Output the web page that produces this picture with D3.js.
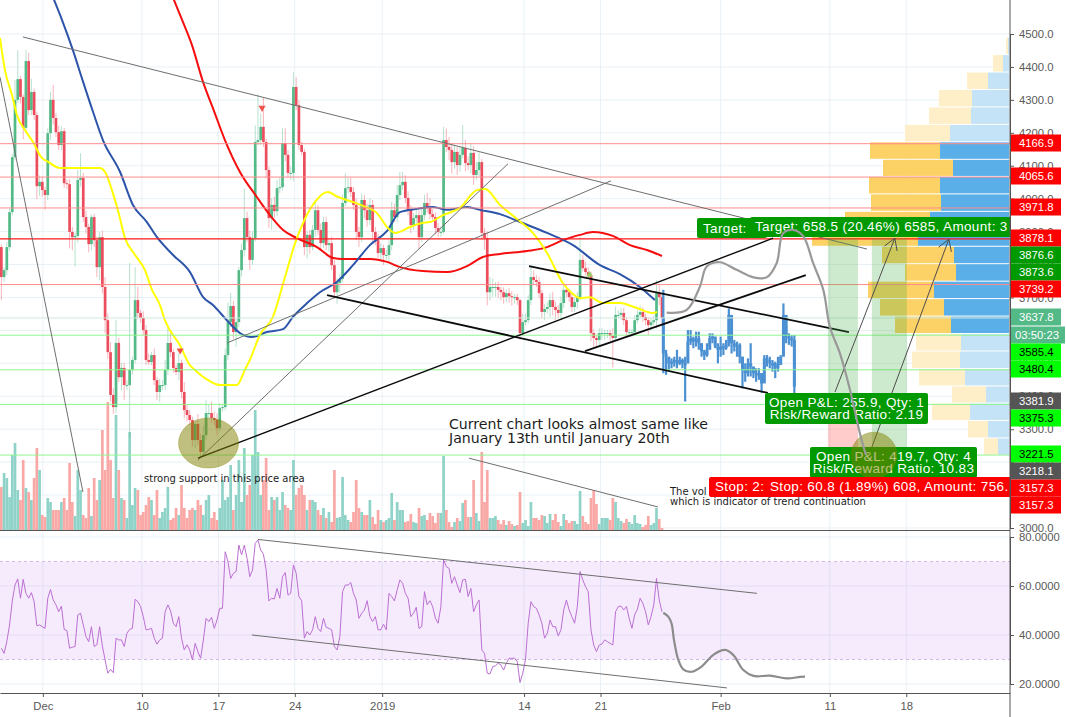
<!DOCTYPE html>
<html>
<head>
<meta charset="utf-8">
<title>BTC chart</title>
<script src="https://cdn.jsdelivr.net/npm/d3@7"></script>
<style>
	html, body { margin: 0; padding: 0; background: #fff; }
	svg { display: block; }
	.axis text { font-family: "Liberation Sans", Arial, sans-serif; font-size: 11.3px; fill: #5a5a5a; }
	.note { font-family: "DejaVu Sans", sans-serif; fill: #1c1c1c; }
	.box-text { font-family: "Liberation Sans", Arial, sans-serif; font-size: 13.5px; fill: #fff; letter-spacing: 0.35px; }
	.tag-text { font-family: "Liberation Sans", Arial, sans-serif; font-size: 11.3px; }
</style>
</head>
<body>
<div id="chart-area"></div>
<script>
//**************** Data *****************//

// close of every bar, 4 bars a day
const closes = [
	3762,3783,3853,3959,4126,4300,4363,4309,4215,4418,
	4269,4324,4254,4038,4051,4026,4011,4199,4300,4245,
	4202,4163,4205,4047,4044,3899,3883,3887,4057,4063,
	3944,3914,3862,3944,3874,3792,3883,3732,3631,3534,
	3404,3367,3562,3458,3486,3434,3434,3480,3510,3692,
	3653,3638,3601,3510,3504,3525,3449,3413,3434,3434,
	3480,3562,3534,3486,3474,3501,3413,3358,3343,3328,
	3267,3316,3267,3231,3282,3349,3349,3334,3328,3303,
	3364,3367,3525,3625,3674,3595,3625,3783,3844,3941,
	3883,3814,3880,4172,4178,4218,4172,4087,3941,3981,
	3962,4032,4035,4169,4133,4078,4078,4339,4284,4163,
	4142,3853,3890,3853,3905,3965,3905,3865,3929,3859,
	3865,3798,3716,3744,3756,3987,4032,4035,4020,3981,
	3899,3883,3996,3965,3935,3981,3899,3874,3835,3850,
	3829,3829,3859,3965,3944,4011,4041,4051,4002,3965,
	3920,3941,3950,3883,3950,3987,3972,3953,3944,3911,
	3899,3899,4178,4157,4148,4111,4142,4102,4133,4154,
	4108,4102,4139,4072,4087,4111,3896,3880,3716,3732,
	3732,3732,3723,3716,3701,3713,3704,3701,3701,3692,
	3592,3625,3631,3692,3762,3753,3747,3713,3656,3665,
	3671,3692,3671,3662,3653,3683,3723,3716,3701,3671,
	3686,3701,3814,3789,3777,3768,3592,3577,3571,3592,
	3592,3592,3592,3583,3577,3647,3647,3653,3631,3595,
	3595,3595,3631,3647,3656,3641,3631,3616,3625,3631,
	3713,3701,3638
];
const firstOpen = 3853;

// wick lengths above / below the body
const wickUp = [
	8,8,15,10,10,60,88,10,8,33,
	25,40,10,10,20,15,10,15,25,45,
	15,20,15,10,10,15,15,10,30,75,
	15,20,10,8,10,10,15,20,30,20,
	30,20,70,15,15,15,15,325,10,100,
	40,10,20,15,20,10,20,10,20,15,
	30,45,30,10,10,30,10,30,15,15,
	10,10,30,20,30,40,25,35,20,20,
	15,10,20,60,40,15,10,10,20,90,
	20,20,20,50,140,40,90,10,10,20,
	25,25,30,45,45,15,20,45,30,15,
	10,10,10,15,15,25,15,20,15,15,
	15,20,15,15,15,25,45,30,30,15,
	20,15,20,15,20,20,15,15,20,15,
	10,15,15,25,20,30,40,30,20,20,
	15,15,20,15,20,25,30,30,15,15,
	15,15,40,35,30,20,20,15,25,70,
	25,20,30,20,25,30,10,15,20,30,
	25,15,15,10,15,10,15,15,10,10,
	5,25,20,15,35,20,15,15,10,15,
	15,20,25,15,15,20,20,15,10,15,
	15,15,70,15,20,15,10,10,10,15,
	15,10,10,10,25,25,15,15,15,10,
	10,10,15,15,20,15,10,10,15,15,
	40,25,10
];
const wickDown = [
	70,15,15,10,10,10,10,20,35,15,
	15,15,15,40,30,20,45,15,20,20,
	15,15,15,15,15,50,40,90,20,20,
	15,20,25,20,20,30,40,20,40,20,
	20,20,18,15,40,45,15,160,15,10,
	15,15,15,15,10,10,15,25,30,15,
	15,15,15,15,10,25,20,25,20,15,
	20,25,15,15,15,15,15,15,15,20,
	10,10,10,15,15,20,45,15,20,20,
	15,30,15,10,10,15,15,25,30,35,
	20,15,15,10,20,15,20,25,15,15,
	10,25,35,20,10,20,15,20,15,15,
	20,15,20,35,30,10,10,15,15,15,
	25,30,15,25,20,15,30,15,15,25,
	30,15,25,15,15,15,15,15,15,15,
	25,15,15,35,15,15,15,15,15,20,
	15,15,5,15,30,35,20,30,20,10,
	25,15,25,30,15,20,20,35,40,25,
	30,30,25,25,20,15,20,25,20,15,
	20,10,10,10,15,15,15,15,20,25,
	15,30,25,30,15,20,15,15,15,15,
	15,20,10,10,10,10,25,30,25,20,
	20,20,15,15,90,10,10,15,15,15,
	15,15,10,10,10,15,15,30,15,10,
	25,25,20
];

const volumes = [
	43,57,52,33,75,87,40,30,70,42,
	38,30,52,82,60,15,13,32,28,20,
	20,20,28,32,20,67,28,14,60,40,
	15,12,42,14,52,30,50,100,60,128,
	70,32,115,60,32,30,12,98,25,42,
	40,15,18,25,33,30,15,40,12,18,
	22,43,10,12,22,15,45,22,12,20,
	22,20,30,25,15,30,35,12,18,10,
	22,50,30,33,65,20,35,70,28,82,
	35,45,75,120,78,35,50,72,20,33,
	30,33,20,38,25,22,20,70,35,42,
	45,35,20,30,30,28,20,15,22,12,
	18,8,60,12,13,53,15,10,8,18,
	50,22,18,15,15,30,13,6,20,10,
	8,10,12,37,10,28,20,20,8,9,
	16,8,7,22,14,15,10,17,14,7,
	17,17,74,20,8,3,8,12,9,27,
	30,13,13,50,17,9,78,28,60,12,
	12,14,10,6,10,5,9,6,4,5,
	38,7,10,4,28,12,12,10,15,14,
	7,16,10,16,8,4,16,10,7,9,
	9,6,39,14,8,6,32,40,26,6,
	12,12,12,10,32,28,12,9,7,11,
	8,6,15,7,6,3,5,14,5,7,
	22,11,2
];

const rsiValues = [
	34.6,32.5,37.3,44.1,53.9,60.4,62.9,55,62.7,57,
	55,57.3,53.6,43.8,44.1,43.4,42.7,55,58.6,54.3,
	52.3,49.5,51.8,42.3,41.8,34.6,35,35.3,48.2,48.9,
	44.1,39.3,37.3,43.4,35.3,36,43.4,35.5,29.8,24.4,
	26,24.6,38.7,38,38,35.3,40.7,42.3,42.7,54.6,
	53.6,51.6,47.5,42.1,42.3,42.7,38.7,36.3,38,38.7,
	49.5,52.3,49.8,44.8,43.4,47.5,38.7,33.9,36,33.9,
	29.8,36.6,33.2,30.5,38,46.8,45.5,47.2,42.7,46.1,
	50.9,50.9,74,70,63.1,65.2,65.9,76.7,72.7,76.7,
	71.3,63.8,66.5,77.4,78.8,74.7,73,66.5,53.9,55,
	54.7,59,55,63.8,65.5,56.3,57,68.6,65.2,55.7,
	54,38.7,41.4,40,42.1,47.5,42.7,41.4,46.8,43.1,
	42.7,42.1,35.3,33.9,39.3,57.7,60.4,60.4,61.4,57,
	54.3,46.8,48.9,50.2,54,47.5,45.5,47.5,42.1,42.1,
	44.4,42.1,57,55.7,53.9,58.4,62.5,61.1,57,55,
	47.5,48.9,51.3,42.7,43.4,57.7,52.3,54,51.6,46.8,
	44.8,51.6,70.6,67.9,67.2,61.1,63.8,60.4,57.3,62.5,
	62.7,55.7,59,49.5,52.3,54.3,33.9,32.5,24.4,24.1,
	27.1,27.4,28.5,27.8,25.7,28.5,30.5,30.5,30.5,29.1,
	20.6,24.4,29.8,44.8,53.6,51.6,50.9,48.2,44.8,38.7,
	40.7,46.1,43.4,43.4,39.6,42.1,50.2,54.3,50.2,47.5,
	44.8,51.6,65.9,62.5,59.7,57.7,42.1,35.9,33.2,35.9,
	36.3,38,37.3,36.6,35.9,49.5,51.6,51.8,50.2,51.6,
	46.8,42.7,48.2,50.5,55,52.9,49.5,44.1,47.5,52.3,
	63.1,54.3,49.5
];

// repeated price pattern drawn in blue after the last real bar
const patternClose = [3530,3520,3500,3505,3510,3500,3510,3500,3500,3566,3576,3566,3576,3561,3536,3525,3541,3576,3581,3551,3541,3551,3546,3561,3647,3561,3551,3556,3520,3480,3470,3500,3490,3470,3465,3470,3439,3515,3510,3500,3500,3485,3495,3520,3647,3581,3576,3571,3429];
const patternHigh = [3723,3541,3520,3515,3520,3541,3520,3515,3520,3601,3601,3581,3596,3596,3561,3541,3561,3591,3591,3581,3561,3581,3561,3571,3667,3586,3571,3566,3561,3520,3500,3515,3561,3490,3485,3485,3470,3525,3525,3520,3510,3505,3520,3525,3682,3616,3591,3586,3586];
const patternLow = [3470,3465,3480,3485,3490,3485,3495,3485,3384,3500,3556,3546,3551,3541,3520,3510,3520,3551,3561,3546,3500,3520,3525,3541,3551,3530,3536,3520,3500,3424,3444,3460,3460,3455,3444,3450,3411,3480,3490,3485,3475,3455,3475,3500,3561,3561,3556,3551,3409];

// moving averages: [bar, price]
const maYellow = [[-0.5,4488],[1.3,4391],[3.9,4315],[5.7,4254],[8.7,4208],[11.6,4172],[14.9,4123],[16.7,4114],[21.5,4093],[27,4093],[36.1,4093],[38,4081],[40.5,4026],[42.7,3965],[45.3,3880],[49,3829],[52.6,3783],[55.2,3723],[58.1,3677],[59.9,3631],[65.4,3555],[69.1,3494],[70.9,3480],[74.6,3455],[80.1,3434],[86.3,3434],[89.2,3480],[91,3510],[94.7,3586],[99.5,3641],[103.9,3762],[107.6,3865],[110.5,3926],[114.9,3990],[119.6,4020],[123.3,4005],[128.8,3990],[132.5,3978],[137.6,3956],[141.6,3911],[144.2,3896],[149.7,3914],[154.1,3926],[157,3929],[161.8,3950],[168,3972],[174.2,4026],[177.2,4029],[182.7,3981],[188.9,3938],[194.7,3896],[199.9,3835],[205.7,3744],[209,3713],[212,3698],[215.6,3701],[220.4,3683],[226.6,3683],[232.8,3668],[238.7,3653],[240.2,3656]];
const maBlue = [[18.5,4620],[22.2,4543],[26.2,4451],[29.5,4366],[33.6,4263],[37.2,4178],[43.5,4081],[48.2,3981],[53.3,3929],[57,3883],[62.9,3829],[69.1,3777],[73.9,3701],[77.5,3677],[82.6,3631],[87.4,3592],[91.8,3580],[97.3,3595],[103.2,3604],[106.8,3641],[112,3683],[116.7,3716],[122.9,3747],[128.8,3798],[135,3859],[141.3,3902],[146,3959],[152.3,3969],[158.1,3975],[163.2,3966],[170.6,3975],[175.3,3966],[182.7,3953],[190,3929],[199.9,3896],[209.4,3859],[219.3,3798],[226.6,3771],[233.9,3732],[239.4,3692]];
const maRed = [[62.5,4618],[66.2,4543],[69.8,4467],[73.9,4354],[77.5,4275],[81.9,4178],[87.4,4081],[93.6,4005],[98.4,3950],[103.2,3905],[108.3,3880],[115.6,3853],[121.5,3820],[125.1,3817],[135,3817],[141.3,3808],[146,3792],[154.4,3780],[163.2,3777],[170.6,3795],[176.4,3823],[182.7,3832],[192.5,3841],[199.9,3853],[205.7,3874],[212,3890],[216.7,3899],[224,3887],[230.3,3859],[236.5,3844],[242,3826]];

// hand drawn forecast curves: [bar, value]
const forecastPrice = [[243.7,3654],[251,3662],[255.9,3733],[258.4,3794],[263.2,3807],[269.3,3784],[275.5,3761],[280.3,3761],[284,3804],[286.4,3895],[290.1,3905],[293.8,3885],[297.4,3804],[301.1,3723],[303.5,3611],[307.2,3530],[310.9,3419],[314.5,3288],[316.7,3222]];
const forecastRsi = [[242.5,49.1],[244.3,47.5],[245.5,44.8],[246.4,38],[248,29.8],[249.8,26],[252.9,25],[256.5,27.1],[260.8,31.9],[265.1,33.9],[268.1,31.9],[271.8,25.7],[275.5,23.3],[281.6,23.4],[287.7,22.3],[292.6,22.9],[294.4,23]];

// trend lines: [bar1, price1, bar2, price2]
const thinLines = [[7.9,4491,317.1,3847],[-0.5,4369,29.9,3109],[72,3206,185.6,4106],[82.7,3562,223.3,4054],[171.3,3212,240.5,3064]];
const blackLines = [[119.3,3707,280.8,3410],[193.3,3795,310.5,3595],[213.8,3537,294.7,3768]];
const supportLine = [72,3212,282.7,3880];
const arrowLines = [[305.4,3413,327.3,3880],[318.9,3246,347.1,3877]];
const rsiLines = [[94,79,276.8,57],[91.8,40,265.8,18.4]];

// horizontal levels
const redLevels = [4166.9,4065.6,3971.8,3739.2];
const mainLevel = 3878.1;
const greenLevels = [3585.4,3480.4,3375.3,3221.5];
const paleLevel = 3637.8;

// volume profile: [top price, sell, buy]
const profileTop = [4489,4436,4383,4330,4277,4224,4171,4118,4066,4013,3960,3907,3854,3801,3748,3695,3642,3589,3536,3483,3430,3378,3325,3272];
const profileSell = [2,10,21,33,42,45,70,70,71,70,85,106,72,51,66,64,56,45,48,46,34,38,20,14];
const profileBuy = [1,6,21,37,38,59,69,56,69,68,79,91,55,53,75,65,58,48,49,44,23,39,21,11];
const profileStrong = [6,16]; // first and last row of the value area

// axis ticks
const priceTicks = [4500,4400,4300,4200,4100,4000,3900,3800,3700,3600,3500,3400,3300,3200,3100,3000];
const rsiTicks = [80,60,40,20];
const timeTickBars = [15.2,51.5,79.5,107.5,139.5,191.5,219.5,263.5,303.5,331.5];
const timeTickLabels = ['Dec','10','17','24','2019','14','21','Feb','11','18'];

// price tags on the right axis
const tagTexts = ['4166.9','4065.6','3971.8','3878.1','3876.6','3873.6','3739.2','3637.8','03:50:23','3585.4','3480.4','3381.9','3375.3','3221.5','3218.1','3157.3','3157.3'];
const tagKinds = ['red','red','red','red','dark','dark','red','teal','teal','lime','lime','grey','lime','lime','grey','red','red'];
const tagCentres = [143,176,207,238,255,272,289,317,335,352,369,401,418,454,471,488,505];


//**************** Canvas *****************//

const W = 1066, H = 717;
const plotRight = 1010, mainBottom = 530, rsiBottom = 693;

const svg = d3.select('#chart-area').append('svg')
	.attr('width', W)
	.attr('height', H)
	.attr('viewBox', '0 0 ' + W + ' ' + H);

const defs = svg.append('defs');
defs.append('clipPath').attr('id', 'clip-main')
	.append('rect').attr('x', 0).attr('y', 0).attr('width', plotRight).attr('height', mainBottom);
defs.append('clipPath').attr('id', 'clip-rsi')
	.append('rect').attr('x', 0).attr('y', mainBottom).attr('width', plotRight).attr('height', rsiBottom - mainBottom);
defs.append('clipPath').attr('id', 'clip-stop')
	.append('rect').attr('x', 709).attr('y', 470).attr('width', 60).attr('height', 40);


//**************** Scales & Axes *****************//

const x = d3.scaleLinear().domain([-0.5, 369.5]).range([0, plotRight]);
const y = d3.scaleLinear().domain([3000, 4500]).range([528, 34]);
const yVol = d3.scaleLinear().domain([0, 100]).range([mainBottom, mainBottom - 100]);
const yRsi = d3.scaleLinear().domain([20, 80]).range([684, 537]);

const gridColor = '#e9f1f6';

// grid
const grid = svg.append('g');
grid.selectAll('.gv').data(timeTickBars).enter().append('line')
	.attr('x1', d => x(d)).attr('x2', d => x(d))
	.attr('y1', 0).attr('y2', rsiBottom)
	.attr('stroke', gridColor);
grid.selectAll('.gh').data(priceTicks).enter().append('line')
	.attr('x1', 0).attr('x2', plotRight)
	.attr('y1', d => y(d)).attr('y2', d => y(d))
	.attr('stroke', gridColor);
grid.selectAll('.gr').data(rsiTicks).enter().append('line')
	.attr('x1', 0).attr('x2', plotRight)
	.attr('y1', d => yRsi(d)).attr('y2', d => yRsi(d))
	.attr('stroke', gridColor);

const main = svg.append('g').attr('clip-path', 'url(#clip-main)');
const lower = svg.append('g').attr('clip-path', 'url(#clip-rsi)');


//**************** Volume *****************//

const opens = closes.map((c, i) => i === 0 ? firstOpen : closes[i - 1]);

main.selectAll('.vol').data(volumes).enter().append('rect')
	.attr('x', (d, i) => x(i) - 1.35)
	.attr('width', 2.7)
	.attr('y', d => yVol(d))
	.attr('height', d => mainBottom - yVol(d))
	.attr('fill', (d, i) => closes[i] >= opens[i] ? '#8fd3c8' : '#f9a8a5');


//**************** Volume profile *****************//

const rowBottom = (d, i) => i < profileTop.length - 1 ? y(profileTop[i + 1]) : y(d) + 17.4;
const profile = main.append('g');
const pxPerUnit = 1;
const isStrong = i => i >= profileStrong[0] && i <= profileStrong[1];

profile.selectAll('.sell').data(profileTop).enter().append('rect')
	.attr('x', (d, i) => plotRight - 1 - (profileBuy[i] + profileSell[i]) * pxPerUnit)
	.attr('width', (d, i) => profileSell[i] * pxPerUnit)
	.attr('y', d => y(d))
	.attr('height', (d, i) => rowBottom(d, i) - y(d) - 1)
	.attr('fill', (d, i) => isStrong(i) ? '#fcd166' : '#feefc9');
profile.selectAll('.buy').data(profileTop).enter().append('rect')
	.attr('x', (d, i) => plotRight - 1 - profileBuy[i] * pxPerUnit)
	.attr('width', (d, i) => profileBuy[i] * pxPerUnit)
	.attr('y', d => y(d))
	.attr('height', (d, i) => rowBottom(d, i) - y(d) - 1)
	.attr('fill', (d, i) => isStrong(i) ? '#5aafe9' : '#c5e3f7');


//**************** Candles *****************//

const upColor = '#53b987', downColor = '#eb4d5c';
const candleColor = i => closes[i] >= opens[i] ? upColor : downColor;

main.selectAll('.wick').data(closes).enter().append('line')
	.attr('x1', (d, i) => x(i)).attr('x2', (d, i) => x(i))
	.attr('y1', (d, i) => y(Math.max(d, opens[i]) + wickUp[i]))
	.attr('y2', (d, i) => y(Math.min(d, opens[i]) - wickDown[i]))
	.attr('stroke', (d, i) => candleColor(i))
	.attr('stroke-opacity', 0.42);
main.selectAll('.body').data(closes).enter().append('rect')
	.attr('x', (d, i) => x(i) - 1.35)
	.attr('width', 2.7)
	.attr('y', (d, i) => y(Math.max(d, opens[i])))
	.attr('height', (d, i) => Math.max(1, Math.abs(y(d) - y(opens[i]))))
	.attr('fill', (d, i) => candleColor(i));

// repeated pattern
const patternColor = '#4a90d2';
const patternStart = 242.5;
const patternOpen = patternClose.map((c, i) => i === 0 ? closes[closes.length - 1] : patternClose[i - 1]);
main.selectAll('.pw').data(patternClose).enter().append('line')
	.attr('x1', (d, i) => x(patternStart + i)).attr('x2', (d, i) => x(patternStart + i))
	.attr('y1', (d, i) => y(patternHigh[i]))
	.attr('y2', (d, i) => y(patternLow[i]))
	.attr('stroke', patternColor)
	.attr('stroke-width', 2.2);
main.selectAll('.pb').data(patternClose).enter().append('rect')
	.attr('x', (d, i) => x(patternStart + i) - 1.5)
	.attr('width', 3)
	.attr('y', (d, i) => y(Math.max(d, patternOpen[i])))
	.attr('height', (d, i) => Math.max(2, Math.abs(y(d) - y(patternOpen[i]))))
	.attr('fill', patternColor);


//**************** Moving averages *****************//

const maLine = d3.line().x(d => x(d[0])).y(d => y(d[1])).curve(d3.curveMonotoneX);
const freeLine = d3.line().x(d => x(d[0])).y(d => y(d[1])).curve(d3.curveCatmullRom);

main.append('path').datum(maRed).attr('d', maLine).attr('fill', 'none').attr('stroke', '#f60d0d').attr('stroke-width', 2);
main.append('path').datum(maBlue).attr('d', maLine).attr('fill', 'none').attr('stroke', '#2c54a8').attr('stroke-width', 2);
main.append('path').datum(maYellow).attr('d', maLine).attr('fill', 'none').attr('stroke', '#ffff00').attr('stroke-width', 2);


//**************** Horizontal levels *****************//

function hline(price, color, width) {
	main.append('line')
		.attr('x1', 0).attr('x2', plotRight)
		.attr('y1', y(price)).attr('y2', y(price))
		.attr('stroke', color)
		.attr('stroke-width', width);
}
redLevels.forEach(p => hline(p, '#ff8c8c', 1));
greenLevels.forEach(p => hline(p, '#8ff58f', 1));
hline(paleLevel, '#cfe9dd', 1);
hline(mainLevel, '#ff1a1a', 1.3);


//**************** Trend lines *****************//

function segment(parent, d, yScale, color, width) {
	return parent.append('line')
		.attr('x1', x(d[0])).attr('y1', yScale(d[1]))
		.attr('x2', x(d[2])).attr('y2', yScale(d[3]))
		.attr('stroke', color)
		.attr('stroke-width', width);
}
thinLines.forEach(d => segment(main, d, y, '#6e6e6e', 1));
blackLines.forEach(d => segment(main, d, y, '#0c0c0c', 1.8));
segment(main, supportLine, y, '#0c0c0c', 1.4);


//**************** Position tools *****************//

function band(b0, b1, p0, p1, color) {
	main.append('rect')
		.attr('x', x(b0)).attr('width', x(b1) - x(b0))
		.attr('y', y(p0)).attr('height', y(p1) - y(p0))
		.attr('fill', color);
}
band(302.8, 313.8, 3880, 3316, 'rgba(60,170,60,0.25)');
band(302.8, 313.8, 3316, 3176, 'rgba(255,70,70,0.28)');
band(318.9, 331.7, 3880, 3246, 'rgba(60,170,60,0.25)');

// arrows
arrowLines.forEach(d => {
	segment(main, d, y, '#4d4d4d', 1);
	const x1 = x(d[0]), y1 = y(d[1]), x2 = x(d[2]), y2 = y(d[3]);
	const a = Math.atan2(y2 - y1, x2 - x1);
	[-0.55, 0.55].forEach(o => {
		main.append('line')
			.attr('x1', x2).attr('y1', y2)
			.attr('x2', x2 - 13 * Math.cos(a + o)).attr('y2', y2 - 13 * Math.sin(a + o))
			.attr('stroke', '#4d4d4d');
	});
});

function ellipse(bar, price, rb, rp) {
	return main.append('ellipse')
		.attr('cx', x(bar)).attr('cy', y(price))
		.attr('rx', x(bar + rb) - x(bar))
		.attr('ry', y(price - rp) - y(price))
		.attr('fill', 'rgba(128,128,0,0.5)')
		.attr('stroke', 'rgba(128,128,0,0.35)');
}
ellipse(75.9, 3258, 11, 76);

// boxes
function box(px, py, pw, ph, color) {
	return main.append('rect')
		.attr('x', px).attr('y', py).attr('width', pw).attr('height', ph)
		.attr('rx', 2)
		.attr('fill', color);
}
function boxText(px, py, txt, anchor) {
	return main.append('text')
		.attr('class', 'box-text')
		.attr('x', px).attr('y', py)
		.attr('text-anchor', anchor || 'start')
		.text(txt);
}
const boxGreen = '#009900', boxRed = '#ff0000';

box(697, 218, 70, 20, boxGreen);
boxText(703, 233, 'Target:');
box(750, 217, 265, 20, boxGreen);
boxText(755, 231, 'Target: 658.5 (20.46%) 6585, Amount: 3');

box(765, 393, 163, 31, boxGreen);
boxText(846.5, 407, 'Open P&L: 255.9, Qty: 1', 'middle');
boxText(846.5, 419, 'Risk/Reward Ratio: 2.19', 'middle');

box(810, 447, 167, 31, boxGreen);
boxText(893.5, 461, 'Open P&L: 419.7, Qty: 4', 'middle');
boxText(893.5, 473, 'Risk/Reward Ratio: 10.83', 'middle');

ellipse(319.7, 3221, 8.4, 70);


//**************** Notes *****************//

function note(px, py, size, txt) {
	main.append('text')
		.attr('class', 'note')
		.attr('x', px).attr('y', py)
		.attr('font-size', size)
		.text(txt);
}
note(449, 429, '14.1px', 'Current chart looks almost same like');
note(449, 443, '14.1px', 'January 13th until January 20th');
note(144, 482, '10px', 'strong support in this price area');
note(670, 495, '10px', 'The vol');
note(670, 505, '10px', 'which is indicator of trend continuation');

// stop boxes go over the notes
box(709, 477, 300, 20, boxRed);
main.append('text').attr('class', 'box-text')
	.attr('x', 715).attr('y', 491)
	.attr('clip-path', 'url(#clip-stop)')
	.text('Stop: 2:');
box(766, 477, 250, 20, boxRed);
boxText(770, 491, 'Stop: 60.8 (1.89%) 608, Amount: 756.');

// forecast over everything
main.append('path').datum(forecastPrice)
	.attr('d', freeLine)
	.attr('fill', 'none')
	.attr('stroke', '#999999')
	.attr('stroke-width', 2.2);

// small triangles
const triangle = d3.symbol().type(d3.symbolTriangle).size(22);
[[95.5, 4276, '#ef5350', 180], [65.5, 3539, '#ef5350', 180], [215.5, 3769, '#9ccc65', 0]].forEach(t => {
	main.append('path')
		.attr('d', triangle)
		.attr('transform', 'translate(' + x(t[0]) + ',' + y(t[1]) + ') rotate(' + t[3] + ')')
		.attr('fill', t[2]);
});


//**************** RSI *****************//

lower.append('rect')
	.attr('x', 0).attr('width', plotRight)
	.attr('y', yRsi(70)).attr('height', yRsi(30) - yRsi(70))
	.attr('fill', 'rgba(170,70,240,0.11)');
[70, 30].forEach(v => {
	lower.append('line')
		.attr('x1', 0).attr('x2', plotRight)
		.attr('y1', yRsi(v)).attr('y2', yRsi(v))
		.attr('stroke', '#d3b6e6')
		.attr('stroke-dasharray', '3,3');
});

const rsiLine = d3.line().x((d, i) => x(i)).y(d => yRsi(d));
lower.append('path').datum(rsiValues)
	.attr('d', rsiLine)
	.attr('fill', 'none')
	.attr('stroke', '#bc6fd3')
	.attr('stroke-width', 1);

rsiLines.forEach(d => segment(lower, d, yRsi, '#6e6e6e', 1));

lower.append('path').datum(forecastRsi)
	.attr('d', d3.line().x(d => x(d[0])).y(d => yRsi(d[1])).curve(d3.curveCatmullRom))
	.attr('fill', 'none')
	.attr('stroke', '#8c8c8c')
	.attr('stroke-width', 2.2);


//**************** Axes *****************//

function styleAxis(g) {
	g.attr('class', 'axis');
	g.selectAll('path, line').attr('stroke', '#555');
}

svg.append('g')
	.attr('transform', 'translate(' + plotRight + ',0)')
	.call(d3.axisRight(y).tickValues(priceTicks).tickFormat(d3.format('.1f')).tickSize(4).tickSizeOuter(0).tickPadding(5))
	.call(styleAxis);

svg.append('g')
	.attr('transform', 'translate(' + plotRight + ',0)')
	.call(d3.axisRight(yRsi).tickValues(rsiTicks).tickFormat(d3.format('.4f')).tickSize(4).tickSizeOuter(0).tickPadding(5))
	.call(styleAxis);

svg.append('g')
	.attr('transform', 'translate(0,' + rsiBottom + ')')
	.call(d3.axisBottom(x).tickValues(timeTickBars).tickFormat((d, i) => timeTickLabels[i]).tickSize(4).tickSizeOuter(0).tickPadding(5))
	.call(styleAxis);

// frame
svg.append('line').attr('x1', plotRight).attr('x2', plotRight).attr('y1', 0).attr('y2', H).attr('stroke', '#555');
svg.append('line').attr('x1', 0).attr('x2', plotRight).attr('y1', mainBottom + 0.5).attr('y2', mainBottom + 0.5).attr('stroke', '#555').attr('stroke-width', 1.2);


//**************** Price tags *****************//

const tagFill = { red: '#ff0000', dark: '#009900', teal: '#53b987', lime: '#00ff00', grey: '#555555' };
const tagInk = { red: '#fff', dark: '#fff', teal: '#fff', lime: '#000', grey: '#fff' };

const tags = svg.append('g');
tags.selectAll('rect').data(tagTexts).enter().append('rect')
	.attr('x', plotRight + 1)
	.attr('y', (d, i) => tagCentres[i] - 8.5)
	.attr('width', d => d.includes(':') ? 54 : 50)
	.attr('height', 17)
	.attr('fill', (d, i) => tagFill[tagKinds[i]]);
tags.selectAll('text').data(tagTexts).enter().append('text')
	.attr('class', 'tag-text')
	.attr('x', (d) => d.includes(':') ? 1015 : 1019)
	.attr('y', (d, i) => tagCentres[i] + 4)
	.attr('fill', (d, i) => tagInk[tagKinds[i]])
	.text(d => d);
</script>
</body>
</html>
